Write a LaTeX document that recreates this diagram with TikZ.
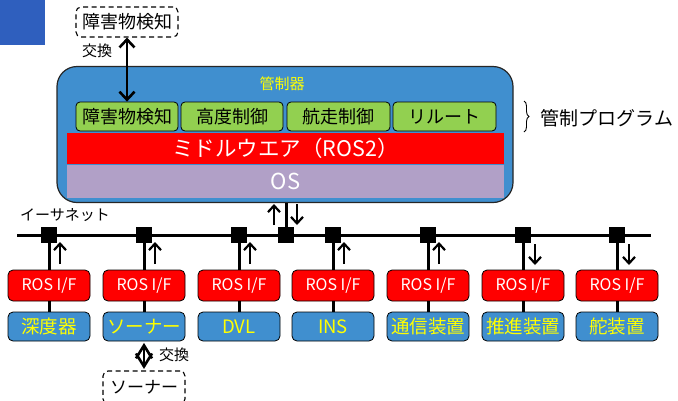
\documentclass[tikz,border=0pt]{standalone}
\usepackage{fontspec}
\setmainfont{Noto Sans CJK JP}
\usetikzlibrary{arrows.meta,decorations.pathreplacing,calc}
\definecolor{mblue}{RGB}{64,143,207}
\definecolor{dblue}{RGB}{47,95,190}
\definecolor{mgreen}{RGB}{146,208,80}
\definecolor{mpurple}{RGB}{177,160,199}
\definecolor{myellow}{RGB}{255,255,0}
\begin{document}
\begin{tikzpicture}[x=1pt,y=-1pt,
  fs/.style={font=\fontsize{#1}{#1}\selectfont},
  greenbox/.style={draw=black, line width=0.8pt, fill=mgreen, rounded corners=4pt, minimum width=102pt, minimum height=29pt, inner sep=0pt, fs=18},
  rosbox/.style={draw=black, line width=0.8pt, fill=red, rounded corners=5pt, minimum width=82pt, minimum height=31pt, inner sep=0pt, text=white, fs=16},
  devbox/.style={draw=black, line width=0.8pt, fill=mblue, rounded corners=5pt, minimum width=82pt, minimum height=29pt, inner sep=0pt, text=myellow, fs=18.5},
  junc/.style={fill=black, minimum size=16pt, inner sep=0pt},
  dashbox/.style={draw=black, dash pattern=on 5pt off 3.5pt, line width=1.1pt, rounded corners=5pt, inner sep=0pt},
  busline/.style={line width=3pt},
  arr/.style={line width=2.2pt, -{Straight Barb[length=6.5pt,width=12pt,line width=2.2pt]}},
  dblarr/.style={line width=2.6pt, {Straight Barb[length=8pt,width=15pt,line width=2.6pt]}-{Straight Barb[length=8pt,width=15pt,line width=2.6pt]}},
  diamarr/.style={line width=2.6pt, {Straight Barb[length=13pt,width=16pt,line width=2.6pt]}-{Straight Barb[length=13pt,width=16pt,line width=2.6pt]}},
  lbl/.style={inner sep=0pt, fs=15}
]
\useasboundingbox (0,0) rectangle (678,400);
\clip (0,0) rectangle (678,400);

% corner square
\node[fill=dblue, minimum size=45pt, inner sep=0pt, anchor=north west] (corner) at (0,0) {};

% main controller
\node[draw=black!85, line width=1.2pt, fill=mblue, rounded corners=20pt, minimum width=456pt, minimum height=136pt, inner sep=0pt] (ctrl) at (285,134.5) {};
\node[lbl, text=myellow] (ctrltitle) at (282,84) {管制器};
\node[greenbox] (g1) at (127,116.5) {障害物検知};
\node[greenbox] (g2) at (232,116.5) {高度制御};
\node[greenbox, minimum width=103pt] (g3) at (338.5,116.5) {航走制御};
\node[greenbox, minimum width=103pt] (g4) at (444.5,116.5) {リルート};
\node[fill=red, minimum width=437pt, minimum height=31pt, inner sep=0pt, text=white, fs=21.5] (mw) at (285.5,148.5) {ミドルウエア（ROS2）};
\node[fill=mpurple, minimum width=437pt, minimum height=33pt, inner sep=0pt, text=white, fs=22] (os) at (285.5,181) {OS};

% external obstacle detection
\node[dashbox, minimum width=102pt, minimum height=30pt, fs=18] (obs) at (127,22) {障害物検知};
\draw[dblarr] (obs.south) -- (g1.north);
\node[lbl] (ex1) at (97,51) {交換};

% program brace
\draw[decorate, decoration={brace, amplitude=5pt}, line width=0.9pt] (524,101) -- (524,132);
\node[inner sep=0pt, fs=19] (prog) at (607,118) {管制プログラム};

% ethernet
\node[lbl] (eth) at (65,215) {イーサネット};
\coordinate (busL) at (17,235);
\coordinate (busR) at (651,235);
\draw[busline] (busL) -- (busR);

% main junction
\node[junc] (mj) at (286,235) {};
\draw[busline] (mj |- ctrl.south) -- (mj);
\coordinate (mu1) at (274,225); \coordinate (mu2) at (274,204);
\coordinate (md1) at (297,204); \coordinate (md2) at (297,225);
\draw[arr] (mu1) -- (mu2);
\draw[arr] (md1) -- (md2);

% devices
\foreach \i/\x/\dev/\dir in {1/49/深度器/u, 2/144/ソーナー/u, 3/239/DVL/u, 4/333/INS/u, 5/428/通信装置/u, 6/523/推進装置/d, 7/617/舵装置/d}{
  \node[junc] (j\i) at (\x,235) {};
  \node[rosbox] (r\i) at (\x,285.5) {ROS I/F};
  \node[devbox] (d\i) at (\x,326.5) {\dev};
  \draw[busline] (j\i) -- (r\i);
  \draw[busline] (r\i) -- (d\i);
  \if u\dir
    \coordinate (a\i) at (\x+11,264);
    \coordinate (b\i) at (\x+11,242);
  \else
    \coordinate (a\i) at (\x+12,244);
    \coordinate (b\i) at (\x+12,265);
  \fi
  \draw[arr] (a\i) -- (b\i);
}

% external sonar
\node[dashbox, minimum width=82pt, minimum height=33pt, fs=17] (sonar) at (144,387.5) {ソーナー};
\draw[diamarr, shorten <=1.5pt, shorten >=1.5pt] (d2.south) -- (sonar.north);
\node[lbl] (ex2) at (174,355) {交換};
\end{tikzpicture}
\end{document}
